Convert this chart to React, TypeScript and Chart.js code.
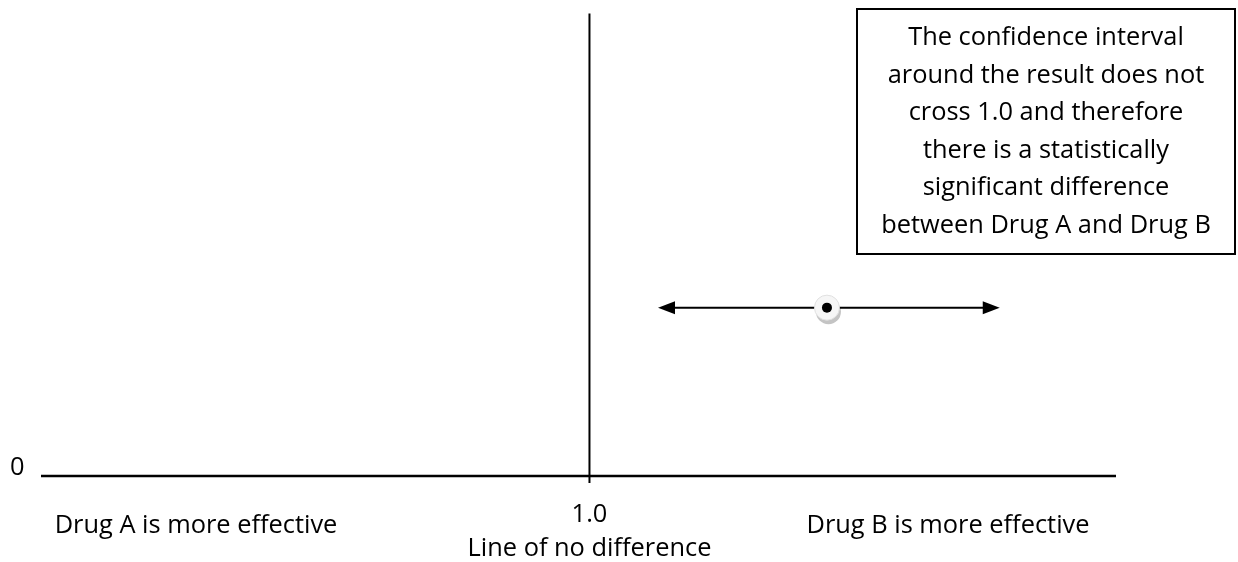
import React, { useEffect, useRef } from "react";
import { Chart, registerables } from "chart.js";

Chart.register(...registerables);

// ---- data ----
const xRange = [0, 1.96];
const yRange = [0, 1];
const baselineX = [0, 1.96];
const noDifferenceX = 1.0;
const noDifferenceY = [-0.015, 1];
const ciLow = 1.125;
const ciHigh = 1.748;
const pointEstimate = 1.433;
const resultY = 0.364;
const yTickLabel = "0";
const xTickLabel = "1.0";
const xAxisTitle = "Line of no difference";
const leftLabel = "Drug A is more effective";
const rightLabel = "Drug B is more effective";
const boxLines = [
  "The confidence interval",
  "around the result does not",
  "cross 1.0 and therefore",
  "there is a statistically",
  "significant difference",
  "between Drug A and Drug B",
];

const FONT = "'Open Sans', Lato, sans-serif";
const FONT_SIZE = 25.4;

const decorPlugin = {
  id: "decor",
  beforeDatasetsDraw(chart: any) {
    const ctx = chart.ctx;
    const xs = chart.scales.x;
    const ys = chart.scales.y;
    const px = xs.getPixelForValue(pointEstimate);
    const py = ys.getPixelForValue(resultY);
    ctx.save();
    ctx.fillStyle = "#c4c4c4";
    ctx.beginPath();
    ctx.arc(px + 1.5, py + 4, 12.5, 0, Math.PI * 2);
    ctx.fill();
    ctx.restore();
  },
  afterDatasetsDraw(chart: any) {
    const ctx = chart.ctx;
    const xs = chart.scales.x;
    const ys = chart.scales.y;
    const yCi = ys.getPixelForValue(resultY);
    ctx.save();
    ctx.fillStyle = "#000";
    const lx = xs.getPixelForValue(ciLow);
    const rx = xs.getPixelForValue(ciHigh);
    ctx.beginPath();
    ctx.moveTo(lx, yCi);
    ctx.lineTo(lx + 17, yCi - 6.5);
    ctx.lineTo(lx + 17, yCi + 6.5);
    ctx.closePath();
    ctx.fill();
    ctx.beginPath();
    ctx.moveTo(rx, yCi);
    ctx.lineTo(rx - 17, yCi - 6.5);
    ctx.lineTo(rx - 17, yCi + 6.5);
    ctx.closePath();
    ctx.fill();

    ctx.fillStyle = "#000";
    ctx.font = `${FONT_SIZE}px ${FONT}`;
    ctx.textBaseline = "alphabetic";
    const y0 = ys.getPixelForValue(0);
    const x1 = xs.getPixelForValue(noDifferenceX);
    ctx.textAlign = "left";
    ctx.fillText(yTickLabel, 10, y0 - 1);
    ctx.textAlign = "center";
    ctx.fillText(xTickLabel, x1, y0 + 46);
    ctx.fillText(xAxisTitle, x1, y0 + 80);
    ctx.fillText(leftLabel, 196, y0 + 57);
    ctx.fillText(rightLabel, 948, y0 + 57);

    ctx.strokeStyle = "#000";
    ctx.lineWidth = 2;
    ctx.strokeRect(857, 9, 378, 245);
    boxLines.forEach((t, i) => {
      ctx.fillText(t, 1046, 45 + i * 37.5);
    });
    ctx.restore();
  },
};

export default function App() {
  const ref = useRef<HTMLCanvasElement | null>(null);
  useEffect(() => {
    if (!ref.current) return;
    const chart = new Chart(ref.current, {
      type: "scatter",
      data: {
        datasets: [
          {
            type: "line",
            data: baselineX.map((x) => ({ x, y: 0 })),
            borderColor: "#000",
            borderWidth: 2.5,
            pointRadius: 0,
            clip: false,
            order: 5,
          } as any,
          {
            type: "line",
            data: noDifferenceY.map((y) => ({ x: noDifferenceX, y })),
            borderColor: "#000",
            borderWidth: 2,
            pointRadius: 0,
            clip: false,
            order: 4,
          } as any,
          {
            type: "line",
            data: [
              { x: ciLow + 0.02, y: resultY },
              { x: ciHigh - 0.02, y: resultY },
            ],
            borderColor: "#000",
            borderWidth: 2,
            pointRadius: 0,
            clip: false,
            order: 3,
          } as any,
          {
            data: [{ x: pointEstimate, y: resultY }],
            pointRadius: 12.5,
            pointBackgroundColor: "#f6f6f6",
            pointBorderColor: "#e0e0e0",
            pointBorderWidth: 1,
            clip: false,
            order: 2,
          },
          {
            data: [{ x: pointEstimate, y: resultY }],
            pointRadius: 5,
            pointBackgroundColor: "#000",
            pointBorderColor: "#000",
            pointBorderWidth: 0,
            clip: false,
            order: 1,
          },
        ],
      },
      options: {
        animation: false,
        responsive: false,
        layout: { padding: { left: 41, right: 122, top: 9, bottom: 86 } },
        plugins: { legend: { display: false }, tooltip: { enabled: false } },
        scales: {
          x: { type: "linear", min: xRange[0], max: xRange[1], display: false },
          y: { type: "linear", min: yRange[0], max: yRange[1], display: false },
        },
      },
      plugins: [decorPlugin],
    });
    return () => chart.destroy();
  }, []);
  return (
    <div style={{ position: "fixed", left: 0, top: 0, width: 1238, height: 562, background: "#fff" }}>
      <canvas ref={ref} width={1238} height={562} style={{ display: "block" }} />
    </div>
  );
}
